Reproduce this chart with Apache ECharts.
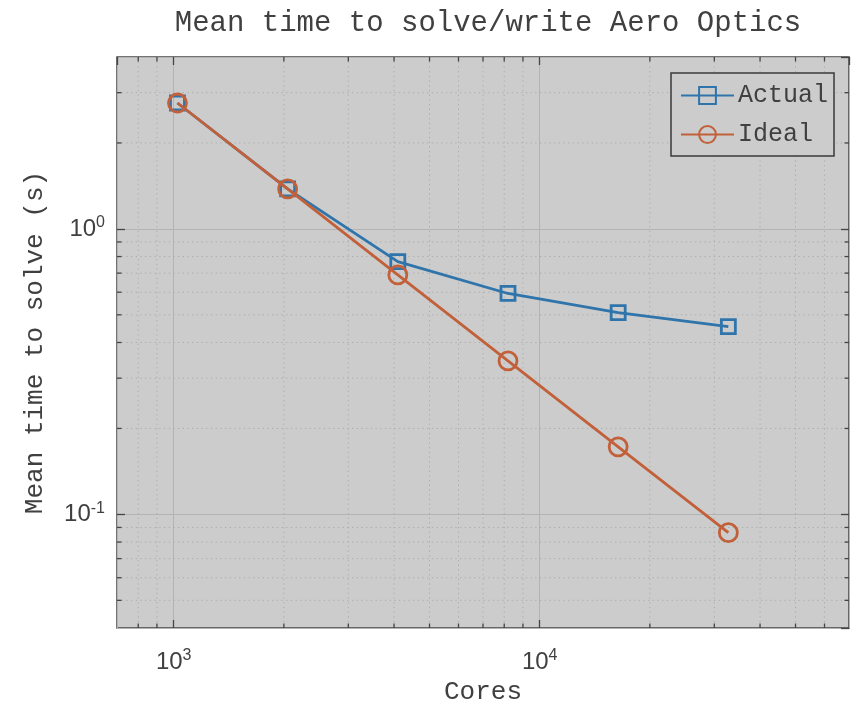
<!DOCTYPE html>
<html>
<head>
<meta charset="utf-8">
<script src="https://cdn.jsdelivr.net/npm/echarts@6/dist/echarts.min.js"></script>
<style>
  html, body { margin: 0; padding: 0; background: #ffffff; }
  #chart { width: 851px; height: 705px; }
</style>
</head>
<body>
<div id="chart"></div>
<script>
// Strong-scaling timings: cores used vs. mean time to solve/write (seconds)
const cores = [1024, 2048, 4096, 8192, 16384, 32768];
const actualTime = [2.76, 1.38, 0.768, 0.594, 0.509, 0.455];
const idealTime = [2.76, 1.38, 0.69, 0.345, 0.1725, 0.0863];

// Axis limits and log-scale minor tick positions
const xRange = [700, 70000];
const yRange = [0.04, 4];
const xMinorTicks = [800, 900, 2000, 3000, 4000, 5000, 6000, 7000, 8000, 9000,
                     20000, 30000, 40000, 50000, 60000];
const yMinorTicks = [0.05, 0.06, 0.07, 0.08, 0.09,
                     0.2, 0.3, 0.4, 0.5, 0.6, 0.7, 0.8, 0.9, 2, 3];

const BLUE = '#2f74aa';
const ORANGE = '#c2603a';
const FRAME = '#454545';
const TEXT = '#404040';
const MONO = '"Liberation Mono", "DejaVu Sans Mono", monospace';
const SANS = '"Liberation Sans", Arial, sans-serif';

const PLOT = { left: 117, top: 57, width: 732, height: 571 };

function powLabel(v) {
  const e = Math.round(Math.log10(v));
  if (Math.abs(Math.log10(v) - e) > 1e-6) return '';
  return '{b|10}{e|' + e + '}';
}
const labelRich = {
  b: { fontFamily: SANS, fontSize: 24, color: TEXT },
  e: { fontFamily: SANS, fontSize: 16, color: TEXT, verticalAlign: 'top', padding: [0, 0, 12, 0] }
};

// Dotted minor grid line plus short inward ticks on both sides of the frame
function minorRenderer(dir) {
  return function (params, api) {
    const cs = params.coordSys;
    const p = api.coord([api.value(0), api.value(1)]);
    const tick = 4.5;
    const grid = { stroke: '#aaaaaa', lineWidth: 1, lineDash: [1.2, 3.5] };
    const tk = { stroke: FRAME, lineWidth: 1.3 };
    if (dir === 'x') {
      const x = p[0];
      return { type: 'group', children: [
        { type: 'line', shape: { x1: x, y1: cs.y, x2: x, y2: cs.y + cs.height }, style: grid },
        { type: 'line', shape: { x1: x, y1: cs.y + cs.height - tick, x2: x, y2: cs.y + cs.height }, style: tk },
        { type: 'line', shape: { x1: x, y1: cs.y, x2: x, y2: cs.y + tick }, style: tk }
      ]};
    }
    const y = p[1];
    return { type: 'group', children: [
      { type: 'line', shape: { x1: cs.x, y1: y, x2: cs.x + cs.width, y2: y }, style: grid },
      { type: 'line', shape: { x1: cs.x, y1: y, x2: cs.x + tick, y2: y }, style: tk },
      { type: 'line', shape: { x1: cs.x + cs.width - tick, y1: y, x2: cs.x + cs.width, y2: y }, style: tk }
    ]};
  };
}

const baseX = {
  type: 'log', logBase: 10, min: xRange[0], max: xRange[1],
  axisLine: { show: false },
  axisTick: { show: true, inside: true, length: 8, lineStyle: { color: FRAME, width: 1.3 } },
  splitLine: { show: false }
};
const baseY = {
  type: 'log', logBase: 10, min: yRange[0], max: yRange[1],
  axisLine: { show: false },
  axisTick: { show: true, inside: true, length: 8, lineStyle: { color: FRAME, width: 1.3 } },
  splitLine: { show: false }
};

const chart = echarts.init(document.getElementById('chart'), null, { renderer: 'canvas' });
chart.setOption({
  animation: false,
  backgroundColor: '#ffffff',
  title: {
    text: 'Mean time to solve/write Aero Optics',
    left: PLOT.left + PLOT.width / 2, textAlign: 'center', top: 4,
    textStyle: { fontFamily: MONO, fontSize: 29, fontWeight: 'normal', color: TEXT }
  },
  grid: Object.assign({
    show: true, backgroundColor: '#cccccc', borderColor: FRAME, borderWidth: 1.5,
    containLabel: false, outerBoundsMode: 'none'
  }, PLOT),
  legend: {
    orient: 'vertical', left: 671, top: 73,
    itemWidth: 53, itemHeight: 21, itemGap: 14,
    padding: [10, 6, 9, 9],
    backgroundColor: '#cccccc', borderColor: '#3a3a3a', borderWidth: 1.5,
    textStyle: { fontFamily: MONO, fontSize: 25, color: TEXT, padding: [0, 0, 0, -1] },
    data: ['Actual', 'Ideal']
  },
  xAxis: [
    Object.assign({}, baseX, {
      position: 'bottom',
      name: 'Cores', nameLocation: 'middle', nameGap: 49,
      nameTextStyle: { fontFamily: MONO, fontSize: 26, color: TEXT },
      axisLabel: { showMinLabel: false, showMaxLabel: false, margin: 20,
                   formatter: powLabel, rich: labelRich },
      splitLine: { show: true, lineStyle: { color: '#b3b3b3', width: 1 } }
    }),
    Object.assign({}, baseX, { position: 'top', axisLabel: { show: false } })
  ],
  yAxis: [
    Object.assign({}, baseY, {
      position: 'left',
      name: 'Mean time to solve (s)', nameLocation: 'middle', nameGap: 69,
      nameTextStyle: { fontFamily: MONO, fontSize: 26, color: TEXT },
      axisLabel: { showMinLabel: false, showMaxLabel: false, margin: 12,
                   formatter: powLabel, rich: labelRich },
      splitLine: { show: true, lineStyle: { color: '#b3b3b3', width: 1 } }
    }),
    Object.assign({}, baseY, { position: 'right', axisLabel: { show: false } })
  ],
  series: [
    {
      type: 'custom', name: 'xMinor', silent: true, z: 1,
      renderItem: minorRenderer('x'),
      data: xMinorTicks.map(v => [v, 1])
    },
    {
      type: 'custom', name: 'yMinor', silent: true, z: 1,
      renderItem: minorRenderer('y'),
      data: yMinorTicks.map(v => [1000, v])
    },
    {
      name: 'Actual', type: 'line', z: 3,
      data: cores.map((c, i) => [c, actualTime[i]]),
      symbol: 'rect', symbolSize: 14,
      lineStyle: { color: BLUE, width: 2.8 },
      itemStyle: { color: 'rgba(0,0,0,0)', borderColor: BLUE, borderWidth: 2.8 }
    },
    {
      name: 'Ideal', type: 'line', z: 4,
      data: cores.map((c, i) => [c, idealTime[i]]),
      symbol: 'circle', symbolSize: 18,
      lineStyle: { color: ORANGE, width: 2.8 },
      itemStyle: { color: 'rgba(0,0,0,0)', borderColor: ORANGE, borderWidth: 2.8 }
    }
  ]
});
</script>
</body>
</html>
